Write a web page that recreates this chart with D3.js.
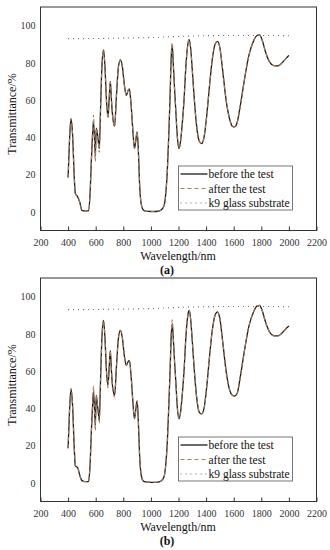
<!DOCTYPE html>
<html lang="en">
<head>
  <meta charset="UTF-8">
  <title>Transmittance before and after the test</title>
  <style>
    body { margin: 0; padding: 0; background: #fff; overflow: hidden; }
    svg { display: block; }
    .axis-title { font-family: 'Liberation Serif', 'DejaVu Serif', serif; font-size: 12px; fill: #111; }
    .legend-text { font-family: 'Liberation Serif', 'DejaVu Serif', serif; font-size: 11.5px; fill: #111; }
  </style>
</head>
<body>
<div id="chart"></div>
<script src="https://cdn.jsdelivr.net/npm/d3@7/dist/d3.min.js"></script>
<script>
// wavelength samples (nm)
const wavelength = [400, 410, 421, 432, 445, 452, 470, 485, 500, 520, 548, 558, 570, 580, 584, 590, 597, 604, 612, 619, 626,
  635, 645, 657, 667, 678, 689, 697, 706, 714, 722, 737, 750, 765, 779, 793, 808, 822, 834, 844, 856, 868, 881, 890, 900,
  908, 918, 930, 945, 961, 1000, 1034, 1070, 1094, 1108, 1119, 1130, 1138, 1148, 1155, 1162, 1170, 1180, 1192, 1204, 1215,
  1228, 1240, 1255, 1268, 1277, 1288, 1300, 1315, 1330, 1350, 1367, 1385, 1405, 1425, 1445, 1465, 1483, 1500, 1520, 1545,
  1570, 1590, 1605, 1625, 1650, 1680, 1710, 1745, 1770, 1787, 1805, 1830, 1860, 1890, 1921, 1950, 1975, 2000];

// panel (a)
const beforeA = [18.5, 38, 50, 42, 18, 10, 8, 5, 0.8, 0.5, 0.6, 8, 30, 45, 48, 42, 30, 45, 42, 38, 34,
  55, 78, 87, 78, 60, 51, 60, 70, 60, 52, 46, 62, 78, 81.6, 78, 68, 62.5, 65, 66, 58, 45, 34, 38, 43,
  35, 15, 4, 1, 0.4, 0.2, 0.2, 0.8, 3, 10, 22, 42, 60, 84, 89, 80, 68, 55, 40, 34, 38,
  48, 60, 80, 90, 92.5, 88, 76, 60, 47, 38, 36.6, 40, 52, 68, 82, 90, 91.5, 88, 76, 60,
  50, 46, 45.6, 48, 58, 72, 84, 92, 94.8, 95, 92.5, 86, 80.5, 78.5, 78.4, 80, 82, 84];
const afterA = [18.5, 38, 50, 42, 18, 10, 8, 5, 0.8, 0.5, 0.6, 8, 30, 46, 52, 42, 27, 45, 42, 37, 32,
  55, 78, 87, 78, 60, 50, 60, 70, 60, 52, 45.5, 62, 78, 81.6, 78, 68, 62.5, 65, 66, 58, 45, 34, 38, 43,
  35, 15, 4, 1, 0.4, 0.2, 0.2, 0.8, 3, 10, 22, 42, 60, 86, 91, 80, 68, 55, 40, 34, 38,
  48, 60, 80, 90, 92.5, 88, 76, 60, 47, 38, 36.6, 40, 52, 68, 82, 90, 91.5, 88, 76, 60,
  50, 46, 45.6, 48, 58, 72, 84, 92, 94.8, 95, 92.5, 86, 80.5, 78.5, 78.4, 80, 82, 84];

// panel (b)
const beforeB = [18.6, 38, 50.5, 42, 18, 9.3, 8, 4, 1.2, 0.7, 0.7, 8, 30, 45, 49, 42, 31, 47, 42, 38, 33.5,
  55, 78, 87.3, 78, 60, 52.3, 61, 71, 60, 52, 47, 62, 78, 81.9, 78, 68, 63, 65, 65.7, 58, 45, 34.4, 39, 44,
  35, 15, 4, 1, 0.5, 0.3, 0.3, 0.8, 3, 10, 22, 42, 58, 80, 85.5, 78, 67, 55, 40, 34.5, 38,
  48, 60, 80, 90, 92.6, 88, 76, 60, 47, 38, 37, 40, 52, 68, 82, 90, 91.8, 88, 76, 60,
  50, 47, 46.6, 48, 58, 72, 84, 92, 95, 95.3, 92.8, 86.5, 81, 79, 78.9, 80.5, 82.5, 84.2];
const afterB = [18.6, 38, 50.5, 42, 18, 9.3, 8, 4, 1.2, 0.7, 0.7, 8, 30, 46, 52, 42, 28, 47, 42, 37, 32,
  55, 78, 87.3, 78, 60, 51, 61, 71, 60, 52, 46, 62, 78, 81.9, 78, 68, 63, 65, 65.7, 58, 45, 34.4, 39, 44,
  35, 15, 4, 1, 0.5, 0.3, 0.3, 0.8, 3, 10, 22, 42, 58, 82, 87.5, 78, 67, 55, 40, 34.5, 38,
  48, 60, 80, 90, 92.6, 88, 76, 60, 47, 38, 37, 40, 52, 68, 82, 90, 91.8, 88, 76, 60,
  50, 47, 46.6, 48, 58, 72, 84, 92, 95, 95.3, 92.8, 86.5, 81, 79, 78.9, 80.5, 82.5, 84.2];

// k9 glass substrate
const k9Wavelength = [400, 600, 800, 1000, 1200, 1400, 1600, 1800, 2000];
const k9Values = [93.0, 93.1, 93.3, 93.6, 94.2, 94.6, 94.7, 94.7, 94.6];

const xTicks = [200, 400, 600, 800, 1000, 1200, 1400, 1600, 1800, 2000, 2200];
const yTicks = [0, 20, 40, 60, 80, 100];
const legendLabels = ["before the test", "after the test", "k9 glass substrate"];

const W = 330, H = 550;
const serif = "'Liberation Serif', 'DejaVu Serif', serif";
const svg = d3.select("#chart").append("svg").attr("width", W).attr("height", H);

const x = d3.scaleLinear().domain([200, 2200]).range([40.5, 316.5]);
const styles = [
  { stroke: "#1b1b1b", width: 1.3, dash: null },
  { stroke: "#a57c5c", width: 1.1, dash: "4,3" },
  { stroke: "#5d6b86", width: 1.1, dash: "1,4" }
];

function drawPanel(top, before, after, tag) {
  const h = 223.5;
  const y = d3.scaleLinear().domain([-10, 110]).range([top + h, top]);
  const g = svg.append("g");

  // frame
  g.append("rect").attr("x", x.range()[0]).attr("y", top)
    .attr("width", x.range()[1] - x.range()[0]).attr("height", h)
    .attr("fill", "none").attr("stroke", "#333").attr("stroke-width", 1);

  // x axis (ticks inward)
  const xa = g.append("g").attr("transform", `translate(0,${top + h})`)
    .call(d3.axisBottom(x).tickValues(xTicks).tickFormat(d3.format("d"))
      .tickSizeInner(-4).tickSizeOuter(0).tickPadding(8));
  xa.attr("font-family", serif).attr("font-size", 10);
  xa.select(".domain").remove();
  xa.selectAll("line").attr("stroke", "#333");
  xa.selectAll("text").attr("fill", "#333");

  // y axis
  const ya = g.append("g").attr("transform", `translate(${x.range()[0]},0)`)
    .call(d3.axisLeft(y).tickValues(yTicks).tickSize(0).tickPadding(5));
  ya.attr("font-family", serif).attr("font-size", 10);
  ya.select(".domain").remove();
  ya.selectAll("text").attr("fill", "#333");

  // axis titles
  g.append("text").attr("class", "axis-title")
    .attr("transform", `translate(16,${top + 107}) rotate(-90)`)
    .attr("text-anchor", "middle").text("Transmittance/%");
  g.append("text").attr("class", "axis-title")
    .attr("x", 178).attr("y", top + h + 29).attr("text-anchor", "middle").text("Wavelength/nm");
  g.append("text").attr("class", "axis-title").style("font-weight", "bold")
    .attr("x", 167).attr("y", top + h + 43).attr("text-anchor", "middle").text(tag);

  const line = d3.line().x(d => x(d[0])).y(d => y(d[1])).curve(d3.curveMonotoneX);

  const series = [
    d3.zip(wavelength, before),
    d3.zip(wavelength, after),
    d3.zip(k9Wavelength, k9Values)
  ];
  series.forEach((s, i) => {
    g.append("path").datum(s).attr("d", line)
      .attr("fill", "none")
      .attr("stroke", styles[i].stroke)
      .attr("stroke-width", styles[i].width)
      .attr("stroke-dasharray", styles[i].dash);
  });

  // legend
  const lx = 178.5, ly = top + 159, lw = 114, lh = 44;
  g.append("rect").attr("x", lx).attr("y", ly).attr("width", lw).attr("height", lh)
    .attr("fill", "#fff").attr("stroke", "#555").attr("stroke-width", 0.8);
  legendLabels.forEach((lab, i) => {
    const yy = ly + 8 + i * 14.5;
    g.append("line").attr("x1", lx + 2).attr("x2", lx + 29).attr("y1", yy).attr("y2", yy)
      .attr("stroke", styles[i].stroke).attr("stroke-width", styles[i].width)
      .attr("stroke-dasharray", styles[i].dash);
    g.append("text").attr("class", "legend-text").attr("x", lx + 30).attr("y", yy + 4).text(lab);
  });
}

drawPanel(7, beforeA, afterA, "(a)");
drawPanel(278, beforeB, afterB, "(b)");
</script>
</body>
</html>
